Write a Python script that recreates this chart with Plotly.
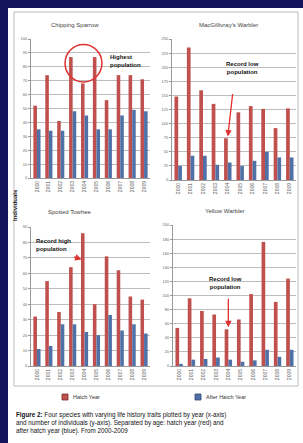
import plotly.graph_objects as go

years = ["2000", "2001", "2002", "2003", "2004", "2005", "2006", "2007", "2008", "2009"]

chipping_hy = [52, 74, 41, 87, 68, 87, 56, 74, 74, 71]
chipping_ahy = [35, 34, 34, 48, 45, 35, 35, 45, 49, 48]

macgillivray_hy = [148, 235, 159, 135, 74, 120, 131, 126, 92, 127]
macgillivray_ahy = [25, 43, 43, 27, 31, 25, 34, 50, 40, 40]

towhee_hy = [32, 55, 35, 64, 86, 40, 71, 62, 45, 43]
towhee_ahy = [11, 13, 27, 27, 22, 20, 33, 23, 27, 21]

yellow_hy = [54, 96, 78, 73, 52, 66, 102, 176, 91, 124]
yellow_ahy = [3, 9, 10, 12, 9, 6, 8, 23, 13, 23]

titles = ["Chipping Sparrow", "MacGillivray's Warbler", "Spotted Towhee", "Yellow Warbler"]
y_ranges = [(100, 10), (250, 25), (90, 10), (200, 20)]
legend_labels = ["Hatch Year", "After Hatch Year"]

RED = "#BF504D"
BLUE = "#4F71A8"
W, H = 303, 443

def px_x(p):
    return p / W

def px_y(p):
    return 1 - p / H

fig = go.Figure()

panels = [
    (chipping_hy, chipping_ahy, (31, 150), (39, 178)),
    (macgillivray_hy, macgillivray_ahy, (172, 296), (39, 180)),
    (towhee_hy, towhee_ahy, (31, 150), (227, 366)),
    (yellow_hy, yellow_ahy, (173, 296), (225, 366)),
]

for i, (hy, ahy, xd, yd) in enumerate(panels):
    n = "" if i == 0 else str(i + 1)
    fig.add_trace(go.Bar(x=years, y=hy, name=legend_labels[0], marker_color=RED,
                         marker_line_width=0, xaxis="x" + n, yaxis="y" + n,
                         showlegend=False))
    fig.add_trace(go.Bar(x=years, y=ahy, name=legend_labels[1], marker_color=BLUE,
                         marker_line_width=0, xaxis="x" + n, yaxis="y" + n,
                         showlegend=False))
    top, step = y_ranges[i]
    fig.update_layout({
        "xaxis" + n: dict(domain=[px_x(xd[0]), px_x(xd[1])], anchor="y" + n,
                          type="category", automargin=False,
                          tickangle=-90, tickfont=dict(size=5, color="#555", family="Liberation Sans"),
                          showline=True, linecolor="#999", linewidth=1,
                          ticks="", showgrid=False, fixedrange=True),
        "yaxis" + n: dict(domain=[px_y(yd[1]), px_y(yd[0])], anchor="x" + n,
                          automargin=False,
                          range=[0, top], dtick=step,
                          tickfont=dict(size=4, color="#666", family="Liberation Sans"),
                          showline=True, linecolor="#999", linewidth=1,
                          gridcolor="#BDBDBD", gridwidth=1, ticks="outside",
                          ticklen=2, tickcolor="#999", zeroline=False),
    })

def note(text, x, y, size=5.5, color="#111", xanchor="center", align="center", **kw):
    fig.add_annotation(text=text, x=px_x(x), y=px_y(y), xref="paper", yref="paper",
                       showarrow=False, xanchor=xanchor, yanchor="middle", align=align,
                       font=dict(size=size, color=color), **kw)

# Titles
title_pos = [(75, 25), (228, 25), (70, 212), (225, 211)]
for t, (x, y) in zip(titles, title_pos):
    note(t, x, y, size=6, color="#444")

# Y axis shared label
note("<b>Individuals</b>", 15, 205, size=6, textangle=-90)

# Chipping sparrow circle + text
fig.add_shape(type="circle", xref="x", yref="y", x0=2.36, x1=5.46, y0=69, y1=96,
              line=dict(color="#E03030", width=1.5))
note("<b>Highest<br>population</b>", 108, 61, size=6, xanchor="left", align="left")

# MacGillivray's record low
note("<b>Record low<br>population</b>", 242, 68, size=6)
fig.add_annotation(x=4, y=macgillivray_hy[4] + 3, xref="x2", yref="y2", text="",
                   showarrow=True, arrowhead=2, arrowsize=1, arrowwidth=1.3,
                   arrowcolor="#E03030", ax=5, ay=-44)

# Spotted towhee record high
note("<b>Record high<br>population</b>", 34, 245, size=6, xanchor="left", align="left")
fig.add_annotation(x=3.75, y=69, xref="x3", yref="y3", text="",
                   showarrow=True, arrowhead=2, arrowsize=1, arrowwidth=1.3,
                   arrowcolor="#E03030", ax=-9, ay=-3)

# Yellow warbler record low
note("<b>Record low<br>population</b>", 225, 283, size=6)
fig.add_annotation(x=4, y=yellow_hy[4] + 3, xref="x4", yref="y4", text="",
                   showarrow=True, arrowhead=2, arrowsize=1, arrowwidth=1.3,
                   arrowcolor="#E03030", ax=0, ay=-30)

# Legend (swatches + labels)
for (lx, col, edge, lab) in [(62, RED, "#7A2E2C", legend_labels[0]),
                             (195, BLUE, "#2E4570", legend_labels[1])]:
    fig.add_shape(type="rect", xref="paper", yref="paper",
                  x0=px_x(lx), x1=px_x(lx + 6), y0=px_y(400), y1=px_y(394),
                  fillcolor=col, line=dict(color=edge, width=0.8))
    note(lab, lx + 9, 397, size=5.5, color="#333", xanchor="left", align="left")

# Caption
note("<b>Figure 2:</b> Four species with varying life history traits plotted by year (x-axis)<br>"
     "and number of individuals (y-axis). Separated by age: hatch year (red) and<br>"
     "after hatch year (blue). From 2000-2009",
     14, 423, size=6.3, xanchor="left", align="left")

# Frame: navy border and gray chart box
fig.add_shape(type="rect", xref="paper", yref="paper", x0=0, x1=px_x(8), y0=0, y1=1,
              fillcolor="#14145C", line_width=0, layer="below")
fig.add_shape(type="rect", xref="paper", yref="paper", x0=0, x1=1, y0=px_y(8), y1=1,
              fillcolor="#14145C", line_width=0, layer="below")
fig.add_shape(type="rect", xref="paper", yref="paper", x0=px_x(14), x1=px_x(298),
              y0=px_y(386), y1=px_y(12), line=dict(color="#BBBBBB", width=1), layer="below")

fig.update_layout(
    width=W, height=H,
    margin=dict(l=0, r=0, t=0, b=0),
    paper_bgcolor="white", plot_bgcolor="white",
    barmode="group", bargap=0.4, bargroupgap=0.0,
    showlegend=False,
    font=dict(family="Liberation Sans, Arial, sans-serif"),
)

fig.write_html("out.html", config={"displayModeBar": False},
               post_script="document.body.style.margin='0';document.body.style.overflow='hidden';")
